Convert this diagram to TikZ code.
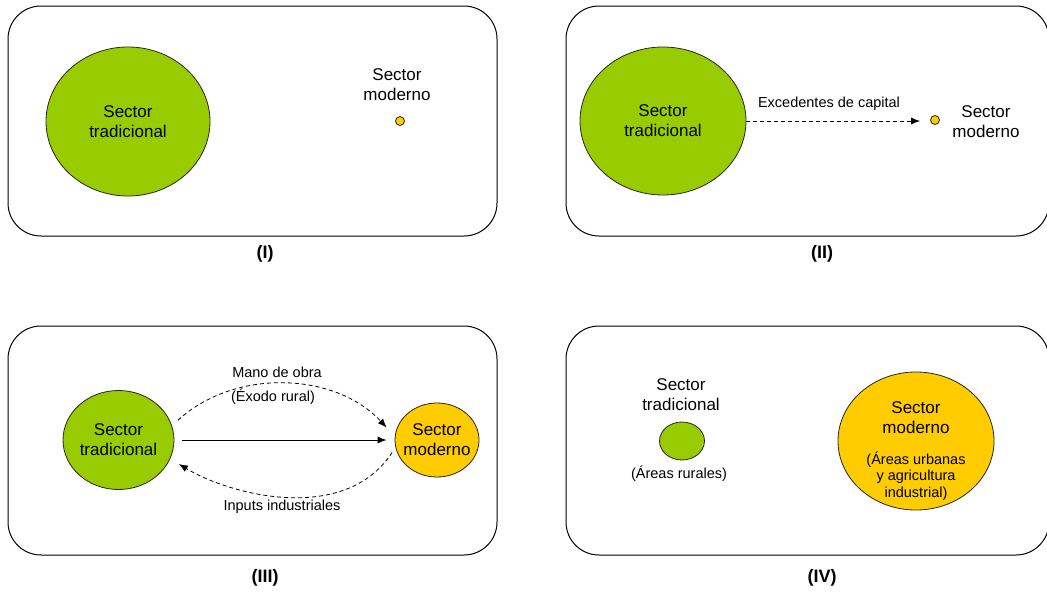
\documentclass[tikz,border=0pt]{standalone}
\usepackage{fontspec}
\setmainfont{Liberation Sans}
\usetikzlibrary{shapes.geometric,arrows.meta}
\definecolor{tradgreen}{HTML}{99CC00}
\definecolor{modyellow}{HTML}{FFCC00}
\tikzset{
  panel/.style={draw=black, line width=1pt, rounded corners=33pt, rectangle, inner sep=0pt},
  sector/.style={ellipse, draw=black!85, line width=0.8pt, inner sep=0pt, align=center,
                 font=\fontsize{17}{20}\selectfont},
  trad/.style={sector, fill=tradgreen},
  moder/.style={sector, fill=modyellow},
  bigtxt/.style={align=center, inner sep=0pt, font=\fontsize{17}{20}\selectfont},
  smalltxt/.style={align=center, inner sep=0pt, font=\fontsize{14.5}{16.5}\selectfont},
  plabel/.style={inner sep=0pt, font=\fontsize{18}{20}\selectfont\bfseries},
  flow/.style={line width=0.8pt, -{Latex[length=9pt,width=7pt]}},
  dflow/.style={flow, dash pattern=on 4pt off 3pt}
}
\begin{document}
\begin{tikzpicture}[x=1pt,y=-1pt]
\useasboundingbox (0,0) rectangle (1047,592);

% ---------- Panel I ----------
\node[panel, minimum width=489pt, minimum height=230pt] (pI) at (252.5,121) {};
\node[trad, minimum width=164pt, minimum height=149pt] (g1) at (128,121.5) {Sector\\tradicional};
\node[bigtxt] (m1) at (397,85) {Sector\\moderno};
\node[moder, circle, minimum size=9pt] (y1) at (400,121) {};
\node[plabel] (l1) at (265,254) {(I)};

% ---------- Panel II ----------
\node[panel, minimum width=483pt, minimum height=230pt] (pII) at (807.5,121) {};
\node[trad, minimum width=166pt, minimum height=148pt] (g2) at (663,121) {Sector\\tradicional};
\node[moder, circle, minimum size=9pt] (y2) at (935,120) {};
\node[bigtxt] (m2) at (986,122) {Sector\\moderno};
\node[smalltxt] (e2) at (829,104) {Excedentes de capital};
\draw[dflow, shorten >=10pt] (g2.east) -- (y2.west |- g2.east);
\node[plabel] (l2) at (822,254) {(II)};

% ---------- Panel III ----------
\node[panel, minimum width=489pt, minimum height=229pt] (pIII) at (252.5,440.5) {};
\node[trad, minimum width=111pt, minimum height=99pt] (g3) at (118.5,440) {Sector\\tradicional};
\node[moder, inner xsep=-4pt, minimum width=84pt, minimum height=74pt] (y3) at (437,440) {Sector\\moderno};
\draw[flow, shorten <=8pt, shorten >=8pt] (g3.east) -- (y3.west);
\draw[dflow, shorten <=8pt, shorten >=12pt] (g3.15) .. controls (235,368) and (335,372) .. (y3.175);
\draw[dflow, shorten <=6pt, shorten >=10pt] (y3.190) .. controls (345,525) and (230,495) .. (g3.-20);
\node[smalltxt] (mo) at (277,372) {Mano de obra};
\node[smalltxt] (ex) at (273,397) {(Éxodo rural)};
\node[smalltxt] (in) at (282,507) {Inputs industriales};
\node[plabel] (l3) at (265,578) {(III)};

% ---------- Panel IV ----------
\node[panel, minimum width=483pt, minimum height=229pt] (pIV) at (807.5,440.5) {};
\node[bigtxt] (t4) at (681,395) {Sector\\tradicional};
\node[trad, minimum width=45pt, minimum height=38pt] (g4) at (682,441) {};
\node[smalltxt] (r4) at (679,474) {(Áreas rurales)};
\node[moder, minimum width=156pt, minimum height=138pt] (y4) at (916,441) {};
\node[bigtxt] (m4) at (916,418) {Sector\\moderno};
\node[smalltxt] (u4) at (916,476) {(Áreas urbanas\\y agricultura\\industrial)};
\node[plabel] (l4) at (822,578) {(IV)};
\end{tikzpicture}
\end{document}
